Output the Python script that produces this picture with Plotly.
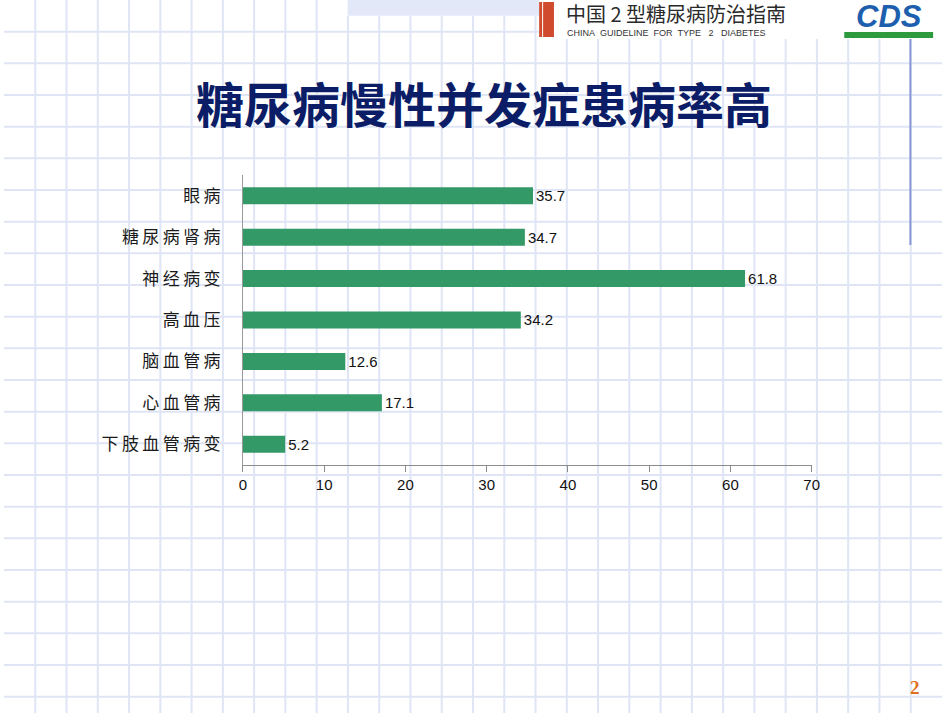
import plotly.graph_objects as go

W, H = 950, 713

categories = ["眼病", "糖尿病肾病", "神经病变", "高血压", "脑血管病", "心血管病", "下肢血管病变"]
values = [35.7, 34.7, 61.8, 34.2, 12.6, 17.1, 5.2]
x_ticks = [0, 10, 20, 30, 40, 50, 60, 70]

title_text = "糖尿病慢性并发症患病率高"
header_cn = "中国 2 型糖尿病防治指南"
header_en = "CHINA\u00a0\u00a0GUIDELINE\u00a0\u00a0FOR\u00a0\u00a0TYPE\u00a0\u00a0\u00a02\u00a0\u00a0\u00a0DIABETES"
page_no = "2"


def px(x):
    return x / W


def py(y):
    return 1 - y / H


shapes = []
grid_color = "#dfe5f5"
step = W / 30.0
# vertical background grid lines
for k in range(1, 30):
    x = k * step
    if x < 345:
        top = 0
    elif x < 542:
        top = 15.7
    else:
        top = 39
    shapes.append(dict(type="line", xref="paper", yref="paper", x0=px(x), x1=px(x),
                       y0=py(top), y1=py(H), line=dict(color=grid_color, width=2), layer="below"))
# horizontal background grid lines
for k in range(1, 23):
    y = k * step
    x_end = 542 if k == 1 else W
    shapes.append(dict(type="line", xref="paper", yref="paper", x0=0, x1=px(x_end),
                       y0=py(y), y1=py(y), line=dict(color=grid_color, width=2), layer="below"))
# hatched header band
shapes.append(dict(type="rect", xref="paper", yref="paper", x0=px(348), x1=px(542),
                   y0=py(0), y1=py(15.7), fillcolor="#e2e8f8", line=dict(width=0), layer="below"))
# red header bar
shapes.append(dict(type="rect", xref="paper", yref="paper", x0=px(542), x1=px(545),
                   y0=py(2), y1=py(37), fillcolor="#d04a2e", line=dict(width=0), layer="below"))
shapes.append(dict(type="rect", xref="paper", yref="paper", x0=px(546), x1=px(557),
                   y0=py(2), y1=py(37), fillcolor="#d04a2e", line=dict(width=0), layer="below"))
# green logo bar
shapes.append(dict(type="rect", xref="paper", yref="paper", x0=px(851), x1=px(941),
                   y0=py(32), y1=py(38), fillcolor="#2e9a3e", line=dict(width=0), layer="below"))
# darker blue vertical line at right
shapes.append(dict(type="line", xref="paper", yref="paper", x0=px(918), x1=px(918),
                   y0=py(39), y1=py(245), line=dict(color="#8896d6", width=2), layer="below"))

spaced_labels = ["\u2009".join(list(c)) for c in categories]

fig = go.Figure()
fig.add_trace(go.Bar(
    x=values, y=categories, orientation="h",
    marker=dict(color="#339966", line=dict(width=0)),
    text=[f"{v:.1f}" for v in values], textposition="outside",
    textfont=dict(family="Liberation Sans, Arial", size=15, color="#111111"),
    cliponaxis=False,
))

annotations = [
    dict(text=f"<b>{title_text}</b>", x=px(486), y=py(102), xref="paper", yref="paper",
         showarrow=False, xanchor="center", yanchor="middle",
         font=dict(family="Noto Sans CJK SC", size=48, color="#0b1d66")),
    dict(text=header_cn, x=px(567), y=py(14), xref="paper", yref="paper",
         showarrow=False, xanchor="left", yanchor="middle",
         font=dict(family="Noto Sans CJK SC", size=20, color="#2a2a2a")),
    dict(text=header_en, x=px(568), y=py(32.5), xref="paper", yref="paper",
         showarrow=False, xanchor="left", yanchor="middle",
         font=dict(family="Liberation Sans, Arial", size=9, color="#333333")),
    dict(text="<i><b>CDS</b></i>", x=px(896), y=py(16), xref="paper", yref="paper",
         showarrow=False, xanchor="center", yanchor="middle",
         font=dict(family="Liberation Sans, Arial", size=31, color="#1d5fae")),
    dict(text=f"<b>{page_no}</b>", x=px(923), y=py(687), xref="paper", yref="paper",
         showarrow=False, xanchor="center", yanchor="middle",
         font=dict(family="Liberation Serif, Times New Roman", size=19, color="#e07020")),
]

fig.update_layout(
    width=W, height=H,
    margin=dict(l=0, r=0, t=0, b=0),
    paper_bgcolor="white",
    plot_bgcolor="rgba(0,0,0,0)",
    showlegend=False,
    bargap=0.59,
    shapes=shapes,
    annotations=annotations,
    xaxis=dict(
        domain=[px(242), px(818)],
        range=[0, 70], tickvals=x_ticks, ticktext=[str(t) for t in x_ticks],
        showgrid=False, zeroline=False,
        showline=True, linecolor="#8c8c8c", linewidth=1,
        ticks="outside", ticklen=6, tickcolor="#8c8c8c",
        tickfont=dict(family="Liberation Sans, Arial", size=15, color="#111111"),
        fixedrange=True,
    ),
    yaxis=dict(
        domain=[py(465), py(175)],
        autorange="reversed",
        tickmode="array", tickvals=categories, ticktext=spaced_labels,
        showgrid=False, zeroline=False,
        showline=True, linecolor="#9a9a9a", linewidth=1,
        ticks="", ticklabelstandoff=18,
        tickfont=dict(family="Noto Sans CJK SC", size=17, color="#1a1a1a"),
        fixedrange=True,
    ),
)

fig.write_html(
    "out.html",
    config={"displayModeBar": False, "staticPlot": True},
    post_script=(
        "document.body.style.margin='0';"
        "document.body.style.overflow='hidden';"
        "document.documentElement.style.overflow='hidden';"
    ),
)
